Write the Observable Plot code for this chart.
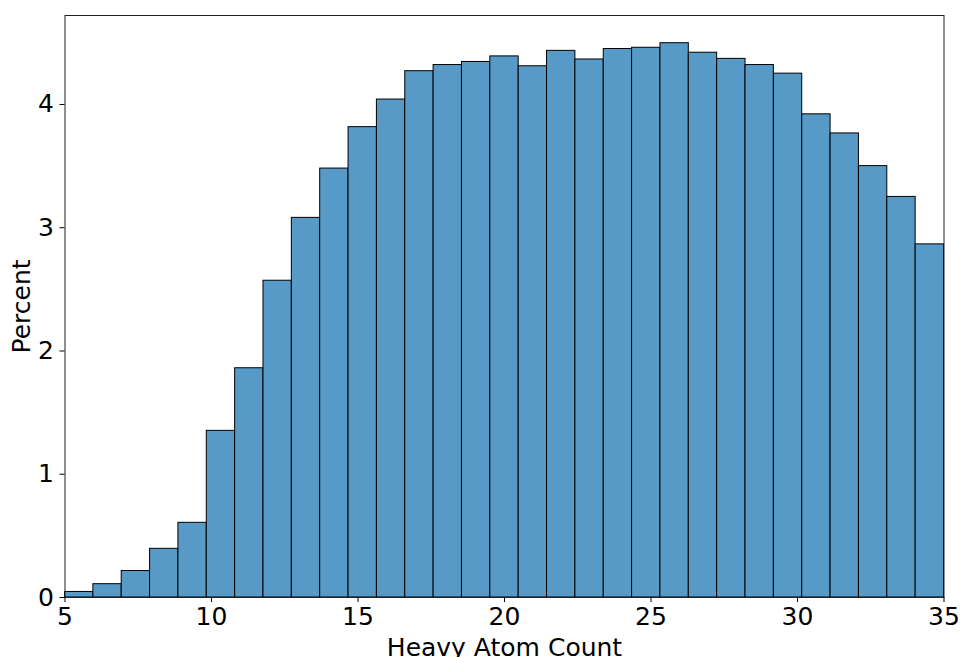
<!DOCTYPE html>
<html>
<head>
<meta charset="utf-8">
<script src="https://cdn.jsdelivr.net/npm/d3@7"></script>
<script src="https://cdn.jsdelivr.net/npm/@observablehq/plot@0.6"></script>
<style>
  html, body { margin: 0; padding: 0; background: #fff; }
  svg { display: block; }
</style>
</head>
<body>
<div id="chart"></div>
<script>
// Histogram of heavy atom count (31 equal-width bins spanning 5..35)
const binRange = [5, 35];
const percentValues = [0.045, 0.108, 0.215, 0.395, 0.606, 1.352, 1.86, 2.57, 3.08, 3.48,
  3.816, 4.04, 4.27, 4.32, 4.345, 4.39, 4.31, 4.435, 4.365, 4.45,
  4.46, 4.497, 4.42, 4.37, 4.32, 4.25, 3.92, 3.765, 3.50, 3.25, 2.865];
const xTicks = [5, 10, 15, 20, 25, 30, 35];
const yTicks = [0, 1, 2, 3, 4];
const xLabel = "Heavy Atom Count";
const yLabel = "Percent";

const binWidth = (binRange[1] - binRange[0]) / percentValues.length;
const bins = percentValues.map((p, i) => ({
  x1: binRange[0] + i * binWidth,
  x2: binRange[0] + (i + 1) * binWidth,
  pct: p
}));
const yMax = d3.max(percentValues) * 1.05;

const fontFamily = "DejaVu Sans";
const fs = 25;

const chart = Plot.plot({
  width: 960,
  height: 657,
  marginLeft: 64.5,
  marginRight: 16.5,
  marginTop: 15,
  marginBottom: 60,
  style: { fontFamily, fontSize: fs + "px", color: "#000", background: "#fff" },
  x: { domain: binRange, label: null },
  y: { domain: [0, yMax], label: null },
  marks: [
    Plot.rectY(bins, {
      x1: "x1", x2: "x2", y1: 0, y2: "pct",
      fill: "rgb(87,153,199)", stroke: "#000", strokeWidth: 1
    }),
    Plot.frame({ stroke: "#222", strokeWidth: 1 }),
    Plot.axisX({ ticks: xTicks, tickSize: 5, tickPadding: 5, fontSize: fs, label: null, tickFormat: d => String(d) }),
    Plot.axisY({ ticks: yTicks, tickSize: 5, tickPadding: 6, fontSize: fs, label: null, tickFormat: d => String(d) }),
    Plot.text([xLabel], {
      frameAnchor: "bottom", dy: 50, text: d => d,
      fontSize: fs, textAnchor: "middle", lineAnchor: "middle", fill: "#000"
    }),
    Plot.text([yLabel], {
      frameAnchor: "left", dx: -42.6, rotate: -90, text: d => d,
      fontSize: fs, textAnchor: "middle", lineAnchor: "middle", fill: "#000"
    })
  ]
});
document.getElementById("chart").appendChild(chart);
</script>
</body>
</html>
